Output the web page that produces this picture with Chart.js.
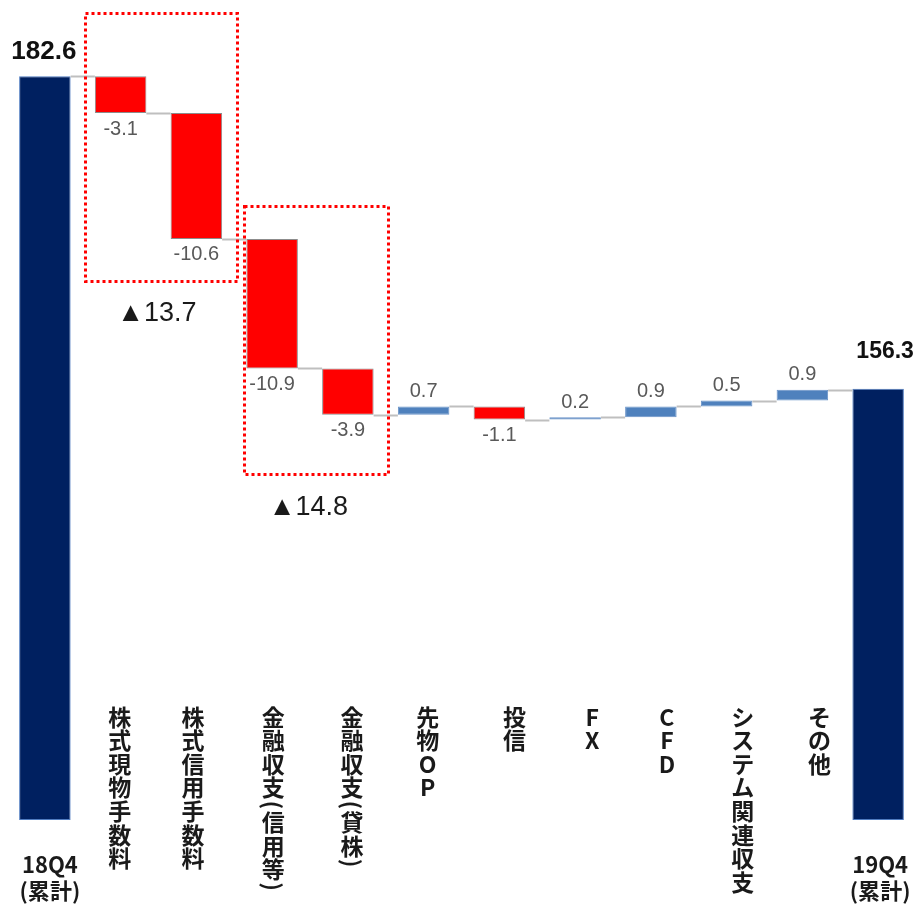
<!DOCTYPE html>
<html lang="ja">
<head>
<meta charset="utf-8">
<script src="https://cdn.jsdelivr.net/npm/chart.js@4.4.1/dist/chart.umd.min.js"></script>
<style>
  html, body { margin: 0; padding: 0; background: #ffffff; }
  #wrap { width: 921px; height: 904px; }
</style>
</head>
<body>
<div id="wrap"><canvas id="c" width="921" height="904"></canvas></div>
<script>
// ---- data ----
const categories = [
  ['18Q4', '(累計)'],
  '株式現物手数料',
  '株式信用手数料',
  '金融収支(信用等)',
  '金融収支(貸株)',
  '先物OP',
  '投信',
  'FX',
  'CFD',
  'システム関連収支',
  'その他',
  ['19Q4', '(累計)']
];
const openingTotal = 182.6;   // 18Q4 cumulative
const closingTotal = 156.3;   // 19Q4 cumulative
const changes = [-3.1, -10.6, -10.9, -3.9, 0.7, -1.1, 0.2, 0.9, 0.5, 0.9];
const groupDeclines = [13.7, 14.8];   // brokerage fees, financial income
const valueRange = [120, 188];

// ---- waterfall ranges built from the values above ----
const ranges = [];
const kinds = [];
const levels = [];
ranges.push([valueRange[0], openingTotal]);
kinds.push('total');
let level = openingTotal;
levels.push(level);
changes.forEach(d => {
  const next = Math.round((level + d) * 10) / 10;
  ranges.push([Math.min(level, next), Math.max(level, next)]);
  kinds.push(d < 0 ? 'down' : 'up');
  level = next;
  levels.push(level);
});
ranges.push([valueRange[0], closingTotal]);
kinds.push('total');
levels.push(closingTotal);
const shownValues = [openingTotal, ...changes, closingTotal];

const fillFor = { total: '#002060', down: '#FF0000', up: '#4F81BD' };
const edgeFor = { total: '#4F7BC0', down: '#8C8C8C', up: '#6A93C8' };

// thin grey steps joining each bar to the next
const connectorPlugin = {
  id: 'connectors',
  afterDatasetsDraw(chart) {
    const { ctx } = chart;
    const meta = chart.getDatasetMeta(0);
    const y = chart.scales.y;
    ctx.save();
    ctx.strokeStyle = '#BFBFBF';
    ctx.lineWidth = 2;
    for (let i = 0; i < meta.data.length - 1; i++) {
      const a = meta.data[i], b = meta.data[i + 1];
      const py = Math.round(y.getPixelForValue(levels[i])) + 0.5;
      ctx.beginPath();
      ctx.moveTo(a.x + a.width / 2, py);
      ctx.lineTo(b.x - b.width / 2, py);
      ctx.stroke();
    }
    ctx.restore();
  }
};

// numbers on the bars
const valueLabelPlugin = {
  id: 'valueLabels',
  afterDatasetsDraw(chart) {
    const { ctx } = chart;
    const meta = chart.getDatasetMeta(0);
    ctx.save();
    ctx.textAlign = 'center';
    ctx.textBaseline = 'middle';
    meta.data.forEach((bar, i) => {
      const v = shownValues[i];
      const top = Math.min(bar.y, bar.base);
      const bottom = Math.max(bar.y, bar.base);
      if (kinds[i] === 'total') {
        ctx.fillStyle = '#111111';
        if (i === 0) {
          ctx.font = 'bold 26px "Liberation Sans", Arial, sans-serif';
          ctx.fillText(v.toFixed(1), bar.x - 1, top - 24);
        } else {
          ctx.font = 'bold 23px "Liberation Sans", Arial, sans-serif';
          ctx.fillText(v.toFixed(1), bar.x + 7, top - 37);
        }
      } else {
        ctx.fillStyle = '#595959';
        ctx.font = '20px "Liberation Sans", Arial, sans-serif';
        if (v < 0) ctx.fillText(v.toFixed(1), bar.x, bottom + 16);
        else ctx.fillText(v.toFixed(1), bar.x, top - 15);
      }
    });
    ctx.restore();
  }
};

// category names: stacked vertically, totals written across
const categoryLabelPlugin = {
  id: 'categoryLabels',
  afterDraw(chart, args, opts) {
    const { ctx } = chart;
    const x = chart.scales.x;
    ctx.save();
    ctx.fillStyle = '#1A1A1A';
    ctx.textAlign = 'center';
    ctx.textBaseline = 'middle';
    categories.forEach((label, i) => {
      const cx = x.getPixelForValue(i) + opts.shift[i];
      if (Array.isArray(label)) {
        ctx.font = 'bold 22px "Noto Sans CJK JP", "Noto Sans", sans-serif';
        label.forEach((line, k) => ctx.fillText(line, cx, opts.rowY[k]));
        return;
      }
      ctx.font = 'bold 23px "Noto Sans CJK JP", "Noto Sans", sans-serif';
      let cursor = opts.columnTop;
      for (const ch of label) {
        const isParen = ch === '(' || ch === ')';
        const adv = isParen ? opts.parenStep : opts.charStep;
        const cy = cursor + adv / 2;
        if (isParen) {
          ctx.save();
          ctx.translate(cx, cy);
          ctx.rotate(Math.PI / 2);
          ctx.fillText(ch, 0, 0);
          ctx.restore();
        } else {
          ctx.fillText(ch, cx, cy);
        }
        cursor += adv;
      }
    });
    ctx.restore();
  }
};

// dotted frames around grouped items with their combined change
const groupPlugin = {
  id: 'groups',
  afterDraw(chart, args, opts) {
    const { ctx } = chart;
    const x = chart.scales.x, y = chart.scales.y;
    ctx.save();
    opts.frames.forEach((f, k) => {
      const x0 = Math.round(x.getPixelForValue(f.from)) + 0.5;
      const x1 = Math.round(x.getPixelForValue(f.to)) + 0.5;
      const y0 = Math.round(y.getPixelForValue(f.high)) + 0.5;
      const y1 = Math.round(y.getPixelForValue(f.low)) + 0.5;
      ctx.strokeStyle = '#FF0000';
      ctx.lineWidth = 3;
      ctx.setLineDash([3, 3]);
      ctx.strokeRect(x0, y0, x1 - x0, y1 - y0);
      ctx.setLineDash([]);
      ctx.fillStyle = '#1A1A1A';
      ctx.font = '27px "Liberation Sans", "DejaVu Sans", sans-serif';
      ctx.textAlign = 'center';
      ctx.textBaseline = 'middle';
      ctx.fillText('▲' + groupDeclines[k].toFixed(1), x.getPixelForValue(f.labelAt), y.getPixelForValue(f.labelValue));
    });
    ctx.restore();
  }
};

new Chart(document.getElementById('c'), {
  type: 'bar',
  data: {
    labels: categories,
    datasets: [{
      data: ranges,
      backgroundColor: kinds.map(k => fillFor[k]),
      borderColor: kinds.map(k => edgeFor[k]),
      borderWidth: 1,
      borderSkipped: false,
      categoryPercentage: 1,
      barPercentage: 0.68
    }]
  },
  options: {
    responsive: false,
    devicePixelRatio: 1,
    animation: false,
    layout: { padding: { top: 12, bottom: 84, left: 7, right: 5 } },
    scales: {
      x: { display: false },
      y: { display: false, min: valueRange[0], max: valueRange[1] }
    },
    plugins: {
      legend: { display: false },
      tooltip: { enabled: false },
      categoryLabels: {
        shift: [5, -1, -3.5, 1, 4, 4, 15, 17, 16, 16, 17, 2],
        rowY: [865, 891],
        columnTop: 705,
        charStep: 23.6,
        parenStep: 11
      },
      groups: {
        frames: [
          { from: 0.53, to: 2.53, high: 187.9, low: 165.4, labelAt: 1.48, labelValue: 162.6 },
          { from: 2.63, to: 4.53, high: 171.7, low: 149.1, labelAt: 3.48, labelValue: 146.3 }
        ]
      }
    }
  },
  plugins: [connectorPlugin, valueLabelPlugin, categoryLabelPlugin, groupPlugin]
});
</script>
</body>
</html>
